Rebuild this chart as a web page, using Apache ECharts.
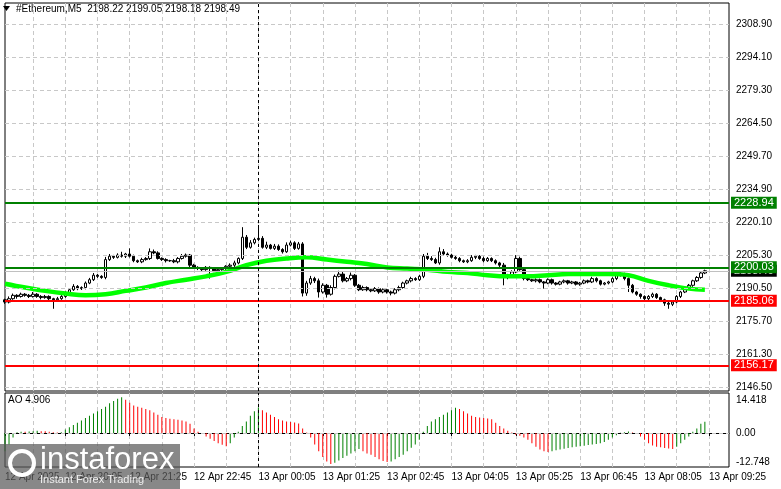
<!DOCTYPE html>
<html><head><meta charset="utf-8">
<script src="https://cdn.jsdelivr.net/npm/echarts@6/dist/echarts.min.js"></script>
<style>html,body{margin:0;padding:0;background:#fff}#c{width:781px;height:489px}</style>
</head><body><div id="c"></div>
<script>
const startTime = {day: '12 Apr', h: 18, m: 50};
const firstOpen = 2185.5;
const closes = [2184.5,2186,2187.5,2187,2188,2187.5,2187,2188,2187,2186.5,2187,2186,2185.5,2186,2187,
2188.5,2190,2191.5,2190.5,2191, 2193,2194.5,2196.5,2196,2195.5, 2203.5,
2205,2204.5,2205.5,2205,2206,2205,2203,2202.5,2203.5,2204,2207,2206.5,2204,2203.5,2203,2203,2202.5,2204,2205,2205.5,
2201,2200,2199.5,2199,2200,2199.5,2198.5, 2199,2199.5,2200.5,2201, 2202,2204, 2213.5, 2209,2211,2212.5,2213,
2209,2210,2208.5,2209.5,2208,2207,2210,2211,2208.5,2210.5, 2188.5,
2193,2195,2194,2189,2192,2188,2191,2196,2197,2194,2195,2196.5,2192,2190,2191,2190,2189.5,2190.5,2189,2190,2189,2188.5,
2190,2191,2193,2194,2195,2194.5,2196, 2205,2204,2203.5,2202,2207,2206,2205.5,2204.5,2204,
2203,2202.5,2203,2204.5,2205,2204,2203,2204,2203,2202,2201, 2195.5, 2196.5,2198,2204,2199,
2195,2194.5,2194,2194.5,2193.5,2193,2194.5,2193,2192.5,2193.5,2194,2193,2193.5,2192.5,2193,2194,2193.5,2195,2194,2192.5,2193,2193.5,
2195,2196.5,2197, 2195,2192,2189,2188,2187,2186, 2187,2188,2186.5,2185.5,2184,2183.5,2184.5, 2187,2189,2190.5,2192, 2194,2195.5,2197.5,2198.5];
const wickUp = [0.5,1,0.8,0.5,0.7,0.5,0.6,1,0.5,0.6,0.7,0.5,0.4,0.8,0.6,0.8,0.5,1,0.6,0.5,0.7,0.8,1,0.6,0.5,
1.2,1,0.6,0.8,1.5,0.5,2.5,0.7,0.5,0.8,0.6,1.5,1,0.7,0.5,0.6,0.4,0.8,0.6,1,0.7,0.5,0.6,0.5,0.4,
0.6,0.5,0.4,0.5,0.6,0.5,0.8,1,0.5,4.5,1,1.2,0.8,6,1,1.5,0.5,1,0.8,0.6,1.2,1,0.7,0.9,0.8,
1,1.2,0.8,1,0.9,0.6,1,0.8,1.5,1,0.7,1.2,0.5,0.6,0.8,0.5,0.6,0.7,0.5,0.6,0.5,0.6,0.7,0.8,0.6,
0.5,0.8,0.6,0.7,1,1.5,1,0.8,2,1.2,0.7,0.6,0.8,0.6,0.5,0.7,1,0.6,0.5,0.8,0.6,0.5,0.6,0.5,1,
0.6,0.7,1.5,0.8,0.6,0.5,0.4,0.6,0.5,0.4,0.6,0.5,0.4,0.5,0.6,0.4,0.5,0.4,0.5,0.6,0.5,0.8,0.6,0.5,0.4,
0.5,0.6,0.7,0.8,0.6,0.5,0.6,0.5,0.4,0.5,0.6,0.7,0.5,0.4,0.5,0.6,0.5,0.6,0.5,0.7,0.6,0.5,0.6,0.7,0.5];
const wickDn = [0.8,0.6,0.5,1,0.5,0.6,0.7,0.5,0.6,0.8,0.5,0.7,4,0.6,0.5,0.6,0.8,0.5,0.7,0.6,0.8,0.5,0.6,0.7,0.6,
0.8,0.6,0.7,0.5,0.6,0.8,0.6,0.7,0.5,0.6,0.5,0.7,0.6,0.5,0.6,0.8,0.5,0.6,0.7,0.5,0.6,0.8,0.5,0.7,0.6,
0.5,4.5,0.6,0.7,0.5,0.6,0.5,0.8,0.6,0.7,0.8,0.6,0.7,0.5,0.6,0.8,0.5,0.7,0.6,0.8,0.5,0.6,0.7,0.6,1.5,
1.2,0.8,1,2.5,0.7,1.5,0.6,0.8,0.5,0.7,0.6,0.8,0.7,0.6,0.5,0.7,0.6,0.5,0.8,0.6,0.7,1,0.6,0.7,0.5,
0.6,0.7,0.5,0.6,0.8,0.7,0.6,0.5,0.8,0.6,0.7,0.5,0.6,0.7,0.5,0.6,0.5,0.8,0.6,0.7,0.5,0.6,0.7,0.8,3.5,
0.8,0.7,0.6,0.5,0.8,0.6,0.5,0.7,0.6,2.5,0.5,0.7,0.6,0.5,0.6,0.7,0.5,0.6,0.7,0.5,0.6,0.5,0.7,0.6,0.5,
0.6,0.5,0.7,0.6,0.8,3,0.6,0.7,1,0.6,0.8,0.7,0.6,1,1.2,2,0.8,0.6,0.7,0.5,0.6,0.7,0.5,0.6,0.5];
const maIdx = [0,5,10,15,20,25,30,35,40,45,50,55,60,65,70,75,80,85,90,95,100,105,110,115,120,125,130,135,140,145,150,155,160,165,170,174];
const maVal = [2192.7,2191,2189.5,2188.3,2187.5,2188,2189.5,2191,2193,2194.5,2196,2198,2201,2203,2204,2204.5,2203.5,2202.5,2201.5,2200,2199.5,2199,2198,2197.5,2196.5,2196,2196,2196.5,2197,2197,2197,2196.5,2194,2192,2190.5,2190];
const ao = [-8,-5,-2, 0.3,0.5,0.5,0.6,0.8,1,0.8,0.8,0.5,0.3,0.2,0.3,
1.5,2.5,3.5,4.5,5.5,6.5,7.5,8.5,9.5,10.5,11.5,13,14,15,15.6,
14.5,13.2,12,11.5,11,10.5,10,9,8,7,6.5,6.2,6,5.8,5.5,5,4,2,
0.5,-0.5,-1.5,-2.5,-3.5,-4.5,-5.2,-5.8,-4.5, -2,0.5,3,5,7.5,9.5,11.2,
10,9,8,7,6,5.5,5,4.8,4.6,4.2,2,0.2, -2,-5,-8,-10.5,-12.5,-13.6, -13,-12,-11,-10,-9,-8,-7,
-8,-9,-9.5,-10.5,-11.5,-12.3,-12.7, -12.5,-11.5,-10.5,-9.5,-8,-6.5,-5,-3, 0.5,3,5,6,7,8,9,10,11,
10.5,9.5,8.5,7.5,7,6.8,6.5,6.3,6,4.5,3,2,1,0.2, -0.8,-1.2,-2,-3,-4.5,-6,-7.2,-8,-8.3,
-8,-7.6,-7.2,-6.9,-6.6,-6.3,-6,-5.8,-5.6,-5.3,-5,-4.8,-4.5,-4,-3,-2,-1, 0.1,0.3,0.6,0.2,
-0.5,-1.5,-3,-4.5,-5.5,-6,-6.3,-6.6,-6.8,-7, -6,-4.5,-3,-1.5,0.5,2,4,4.906];
const priceTicks = [2308.90,2294.10,2279.30,2264.50,2249.70,2234.90,2220.10,2205.30,2190.50,2175.70,2161.30,2146.50];
const aoTicks = [14.418,0.00,-12.748];
const levels = [{v:2198.49,c:'#000000',line:'#c0c0c0'},{v:2228.94,c:'#008000',line:'#008000'},{v:2200.03,c:'#008000',line:'#008000'},{v:2185.06,c:'#ff0000',line:'#ff0000'},{v:2156.17,c:'#ff0000',line:'#ff0000'}];
const timeLabelIdx = {0:'12 Apr 2025',15:'12 Apr 20:05',31:'12 Apr 21:25',47:'12 Apr 22:45',63:'13 Apr 00:05',79:'13 Apr 01:25',95:'13 Apr 02:45',111:'13 Apr 04:05',127:'13 Apr 05:25',143:'13 Apr 06:45',159:'13 Apr 08:05',175:'13 Apr 09:25'};
const nCat = 181;

const cats = []; for (let i=0;i<nCat;i++) cats.push(String(i));
const ohlc = closes.map((c,i)=>{const o = i===0?firstOpen:closes[i-1]; return [o,c,Math.min(o,c)-wickDn[i],Math.max(o,c)+wickUp[i]];});
const maData = new Array(closes.length).fill(null); maIdx.forEach((k,j)=>maData[k]=maVal[j]);
const aoData = ao.map((v,i)=>({value:v,itemStyle:{color:(i>0&&v>ao[i-1])||(i===0)?'#008000':'#ff0000'}}));
const font = 'Liberation Sans, Arial, sans-serif';

const chart = echarts.init(document.getElementById('c'));
const gl=5, gr=52;
chart.setOption({
  animation:false,
  backgroundColor:'#fff',
  grid:[{left:gl,right:gr,top:3,height:388,show:true,borderColor:'#000',borderWidth:1},
        {left:gl,right:gr,top:393,height:74,show:true,borderColor:'#000',borderWidth:1}],
  xAxis:[
   {type:'category',data:cats,gridIndex:0,boundaryGap:false,axisLine:{show:false},axisTick:{show:false},axisLabel:{show:false},
    splitLine:{show:true,interval:(i)=>i%8===7,lineStyle:{color:'#c8c8c8',type:[4,3]}}},
   {type:'category',data:cats,gridIndex:1,boundaryGap:false,axisLine:{show:true,lineStyle:{color:'#000'}},
    axisTick:{show:true,interval:(i)=>i in timeLabelIdx,length:3,lineStyle:{color:'#000'}},
    axisLabel:{show:true,interval:(i)=>i in timeLabelIdx,formatter:(v,i)=>timeLabelIdx[i]||'',align:'left',margin:5,color:'#000',fontSize:10,fontFamily:font},
    splitLine:{show:true,interval:(i)=>i%8===7,lineStyle:{color:'#c8c8c8',type:[4,3]}}}],
  yAxis:[
   {type:'value',gridIndex:0,min:2144.7,max:2318.3,axisLine:{show:false},axisTick:{show:false},axisLabel:{show:false},splitLine:{show:false}},
   {type:'value',gridIndex:1,min:-14.9,max:17.5,axisLine:{show:false},axisTick:{show:false},axisLabel:{show:false},splitLine:{show:false}}],
  series:[
   {type:'line',xAxisIndex:0,yAxisIndex:0,data:[],silent:true,
    markLine:{symbol:'none',silent:true,animation:false,
      data:priceTicks.map(v=>({yAxis:v,lineStyle:{color:'#c8c8c8',type:[4,3],width:1},label:{show:true,position:'end',distance:7,formatter:v.toFixed(2),color:'#000',fontSize:10,fontFamily:font}}))}},
   {type:'candlestick',xAxisIndex:0,yAxisIndex:0,data:ohlc,barWidth:3,
    itemStyle:{color:'#fff',color0:'#000',borderColor:'#000',borderColor0:'#000',borderWidth:1},
    markLine:{symbol:'none',silent:true,animation:false,
      data:levels.map(l=>({yAxis:l.v,lineStyle:{color:l.line,type:'solid',width:l.c==='#000000'?1:2},
        label:{show:true,position:'end',distance:2,formatter:l.v.toFixed(2),color:'#fff',backgroundColor:l.c,padding:[1,3,0,3],fontSize:11,fontFamily:font}}))
       .concat([{xAxis:'63',lineStyle:{color:'#000',type:[3,3],width:1},label:{show:false}}])}},
   {type:'line',xAxisIndex:0,yAxisIndex:0,data:maData,connectNulls:true,smooth:0.4,showSymbol:false,lineStyle:{color:'#00ff00',width:4.5},z:3},
   {type:'bar',xAxisIndex:1,yAxisIndex:1,data:aoData,barWidth:1,
    markLine:{symbol:'none',silent:true,animation:false,
      data:aoTicks.map(v=>({yAxis:v,lineStyle:{color:v===0?'#c8c8c8':'rgba(0,0,0,0)',type:[4,3],width:1},label:{show:true,position:'end',distance:7,formatter:v===0?'0.00':String(v),color:'#000',fontSize:10,fontFamily:font}}))
      .concat([{xAxis:'63',lineStyle:{color:'#000',type:[3,3],width:1},label:{show:false}}])}}
  ],
  graphic:[
   {type:'polygon',shape:{points:[[3,6],[10,6],[6.5,11]]},style:{fill:'#000'}},
   {type:'text',left:16,top:4,style:{text:'#Ethereum,M5  2198.22 2199.05 2198.18 2198.49',fontSize:10,fontFamily:font,fill:'#000'}},
   {type:'text',left:8,top:395,style:{text:'AO 4.906',fontSize:10,fontFamily:font,fill:'#000'}},
   {type:'rect',shape:{x:0,y:444,width:180,height:45},style:{fill:'rgba(90,90,90,0.72)'},z:100},
   {type:'circle',shape:{cx:22,cy:463,r:12},style:{fill:'none',stroke:'#fff',lineWidth:4},z:101},
   {type:'text',left:40,top:445,style:{text:'instaforex',fontSize:31,fontFamily:'Liberation Sans, Arial',fill:'#fff'},z:101},
   {type:'text',left:40,top:474,style:{text:'Instant Forex Trading',fontSize:11,fontFamily:font,fill:'#eee'},z:101}
  ]
});
</script></body></html>
